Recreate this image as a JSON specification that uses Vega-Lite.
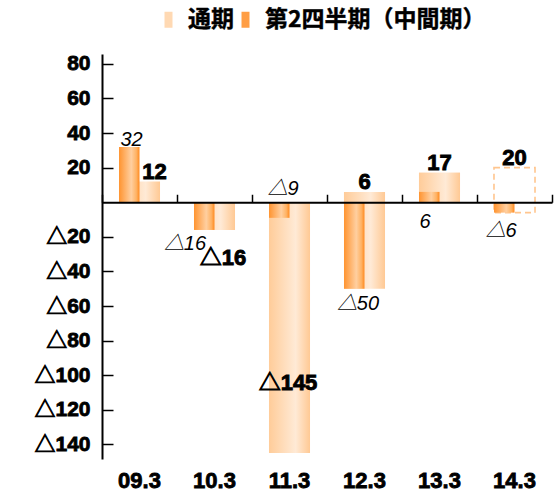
{
  "$schema": "https://vega.github.io/schema/vega-lite/v6.json",
  "width": 450,
  "height": 405,
  "autosize": {"type": "none"},
  "padding": {"left": 102, "top": 54, "right": 2, "bottom": 34},
  "config": {
    "view": {"stroke": null},
    "font": "Liberation Sans, Noto Sans CJK JP",
    "style": {"guide-label": {"stroke": "#000", "strokeWidth": 0.8}}
  },
  "data": {
    "values": [
      {"period": "09.3", "series": "通期", "value": 12, "label": "12", "forecast": false},
      {"period": "09.3", "series": "第2四半期（中間期）", "value": 32, "label": "32", "forecast": false},
      {"period": "10.3", "series": "通期", "value": -16, "label": "△16", "forecast": false},
      {"period": "10.3", "series": "第2四半期（中間期）", "value": -16, "label": "△16", "forecast": false},
      {"period": "11.3", "series": "通期", "value": -145, "label": "△145", "forecast": false},
      {"period": "11.3", "series": "第2四半期（中間期）", "value": -9, "label": "△9", "forecast": false},
      {"period": "12.3", "series": "通期", "value": 6, "label": "6", "forecast": false},
      {"period": "12.3", "series": "第2四半期（中間期）", "value": -50, "label": "△50", "forecast": false},
      {"period": "13.3", "series": "通期", "value": 17, "label": "17", "forecast": false},
      {"period": "13.3", "series": "第2四半期（中間期）", "value": 6, "label": "6", "forecast": false},
      {"period": "14.3", "series": "通期", "value": 20, "label": "20", "forecast": true},
      {"period": "14.3", "series": "第2四半期（中間期）", "value": -6, "label": "△6", "forecast": false}
    ]
  },
  "transform": [
    {"joinaggregate": [{"op": "min", "field": "value", "as": "pmin"}], "groupby": ["period"]}
  ],
  "encoding": {
    "x": {
      "field": "period", "type": "nominal",
      "scale": {"type": "band", "domain": ["09.3", "10.3", "11.3", "12.3", "13.3", "14.3"], "paddingInner": 0, "paddingOuter": 0},
      "axis": null
    },
    "y": {
      "field": "value", "type": "quantitative",
      "scale": {"domain": [-148.4, 85.7], "nice": false, "zero": false},
      "axis": null
    }
  },
  "layer": [
    {
      "transform": [{"filter": "datum.series === '通期' && !datum.forecast"}],
      "mark": {
        "type": "bar", "width": {"band": 0.547},
        "color": {"gradient": "linear", "stops": [
          {"offset": 0, "color": "#FFCC99"}, {"offset": 0.65, "color": "#FFEAD6"}, {"offset": 1, "color": "#FFC994"}
        ]}
      },
      "encoding": {
        "x": {
          "field": "period", "type": "nominal",
          "scale": {"type": "band", "domain": ["09.3", "10.3", "11.3", "12.3", "13.3", "14.3"], "paddingInner": 0, "paddingOuter": 0},
          "axis": {
            "orient": "bottom", "title": null, "labelAngle": 0, "ticks": false, "tickSize": 0, "domain": false,
            "labelFontSize": 22, "labelFontWeight": "bold", "labelColor": "#000", "labelPadding": 11,
            "labelFont": "Liberation Sans"
          }
        },
        "y": {
          "field": "value", "type": "quantitative",
          "scale": {"domain": [-148.4, 85.7], "nice": false, "zero": false},
          "axis": {
            "orient": "left", "title": null, "grid": false,
            "values": [80, 60, 40, 20, -20, -40, -60, -80, -100, -120, -140],
            "labelExpr": "datum.value < 0 ? '△' + abs(datum.value) : datum.label",
            "tickSize": -11, "labelPadding": 23, "tickColor": "#000", "tickWidth": 1.5,
            "domainColor": "#000", "domainWidth": 2, "zindex": 1,
            "labelFontSize": 21, "labelFontWeight": "bold", "labelColor": "#000",
            "labelFont": "Liberation Sans, Noto Sans CJK JP"
          }
        },
        "y2": {"datum": 0}
      }
    },
    {
      "transform": [{"filter": "datum.series === '通期' && !datum.forecast"}],
      "mark": {
        "type": "bar", "width": {"band": 0.547},
        "color": {"gradient": "linear", "stops": [
          {"offset": 0, "color": "#FFCC99"}, {"offset": 0.65, "color": "#FFEAD6"}, {"offset": 1, "color": "#FFC994"}
        ]}
      },
      "encoding": {
        "x": {
          "field": "period", "type": "nominal",
          "scale": {"type": "band", "domain": ["09.3", "10.3", "11.3", "12.3", "13.3", "14.3"], "paddingInner": 0, "paddingOuter": 0},
          "axis": {
            "orient": "top", "offset": -148.26, "title": null, "labels": false, "grid": false,
            "tickBand": "extent", "tickSize": 8, "tickColor": "#000", "tickWidth": 1.5,
            "domainColor": "#000", "domainWidth": 2, "zindex": 1
          }
        },
        "y2": {"field": "pmin"}
      }
    },
    {
      "transform": [{"filter": "datum.forecast"}],
      "mark": {
        "type": "bar", "width": {"band": 0.547},
        "fill": "#FFFFFF", "fillOpacity": 0,
        "stroke": "#FFC58E", "strokeWidth": 1.6, "strokeDash": [6, 4]
      },
      "encoding": {
        "y2": {"field": "pmin"}
      }
    },
    {
      "transform": [{"filter": "datum.series === '第2四半期（中間期）'"}],
      "mark": {
        "type": "bar", "width": {"band": 0.273}, "xOffset": -10.25,
        "color": {"gradient": "linear", "stops": [
          {"offset": 0, "color": "#FF9430"}, {"offset": 0.6, "color": "#FFCFA0"}, {"offset": 0.85, "color": "#FFB263"}, {"offset": 1, "color": "#FF8A20"}
        ]}
      },
      "encoding": {
        "y2": {"datum": 0}
      }
    },
    {
      "mark": {"type": "bar", "opacity": 0, "width": 1},
      "encoding": {
        "y2": {"datum": 0},
        "color": {
          "field": "series", "type": "nominal",
          "scale": {"domain": ["通期", "第2四半期（中間期）"], "range": ["#FFD9B3", "#FF9E45"]},
          "legend": {
            "orient": "none", "legendX": 55, "legendY": -46, "direction": "horizontal", "title": null,
            "symbolType": "M-0.5,-1H0.5V1H-0.5Z", "symbolSize": 256,
            "labelFont": "Noto Sans CJK JP", "labelFontSize": 23, "labelFontWeight": "bold", "labelColor": "#000",
            "labelOffset": 8, "columnPadding": -4, "padding": 0, "labelLimit": 400,
            "encode": {
              "labels": {"update": {"stroke": {"value": "#000"}, "strokeWidth": {"value": 0.4}}},
              "symbols": {
                "update": {
                  "fill": [
                    {"test": "datum.value === '通期'", "value": {"gradient": "linear", "stops": [
                      {"offset": 0, "color": "#FFCC99"}, {"offset": 0.65, "color": "#FFEAD6"}, {"offset": 1, "color": "#FFC994"}
                    ]}},
                    {"value": {"gradient": "linear", "stops": [
                      {"offset": 0, "color": "#FF9430"}, {"offset": 0.6, "color": "#FFCFA0"}, {"offset": 0.85, "color": "#FFB263"}, {"offset": 1, "color": "#FF8A20"}
                    ]}}
                  ],
                  "opacity": {"value": 1},
                  "fillOpacity": {"value": 1},
                  "strokeWidth": {"value": 0}
                }
              }
            }
          }
        }
      }
    },
    {
      "transform": [{"filter": "datum.series === '通期' && indexof(['12.3','13.3','14.3'], datum.period) >= 0"}],
      "mark": {"type": "text", "baseline": "alphabetic", "dy": -2.5, "fontSize": 22, "fontWeight": "bold", "color": "#000", "stroke": "#000", "strokeWidth": 0.9, "font": "Liberation Sans, Noto Sans CJK JP"},
      "encoding": {"text": {"field": "label"}}
    },
    {
      "transform": [{"filter": "datum.series === '通期' && datum.period === '09.3'"}],
      "mark": {"type": "text", "baseline": "alphabetic", "dx": 15, "dy": -2.5, "fontSize": 22, "fontWeight": "bold", "color": "#000", "stroke": "#000", "strokeWidth": 0.9, "font": "Liberation Sans, Noto Sans CJK JP"},
      "encoding": {"text": {"field": "label"}}
    },
    {
      "transform": [{"filter": "datum.series === '通期' && datum.period === '10.3'"}],
      "mark": {"type": "text", "baseline": "alphabetic", "dx": 8.5, "dy": 35, "fontSize": 22, "fontWeight": "bold", "color": "#000", "stroke": "#000", "strokeWidth": 0.9, "font": "Liberation Sans, Noto Sans CJK JP"},
      "encoding": {"text": {"field": "label"}}
    },
    {
      "transform": [{"filter": "datum.series === '通期' && datum.period === '11.3'"}],
      "mark": {"type": "text", "baseline": "alphabetic", "dx": -1.5, "dy": -63, "fontSize": 22, "fontWeight": "bold", "color": "#000", "stroke": "#000", "strokeWidth": 0.9, "font": "Liberation Sans, Noto Sans CJK JP"},
      "encoding": {"text": {"field": "label"}}
    },
    {
      "transform": [{"filter": "datum.series === '第2四半期（中間期）' && datum.period === '09.3'"}],
      "mark": {"type": "text", "baseline": "alphabetic", "dx": -8, "dy": -1, "fontSize": 20, "fontStyle": "italic", "color": "#000", "font": "Liberation Sans, Noto Sans CJK JP"},
      "encoding": {"text": {"field": "label"}}
    },
    {
      "transform": [{"filter": "datum.series === '第2四半期（中間期）' && datum.period === '10.3'"}],
      "mark": {"type": "text", "baseline": "alphabetic", "dx": -29.5, "dy": 20, "fontSize": 20, "fontStyle": "italic", "color": "#000", "font": "Liberation Sans, Noto Sans CJK JP"},
      "encoding": {"text": {"field": "label"}}
    },
    {
      "transform": [{"filter": "datum.series === '第2四半期（中間期）' && datum.period === '11.3'"}],
      "mark": {"type": "text", "baseline": "alphabetic", "dx": -6.5, "dy": -23, "fontSize": 20, "fontStyle": "italic", "color": "#000", "font": "Liberation Sans, Noto Sans CJK JP"},
      "encoding": {"text": {"field": "label"}}
    },
    {
      "transform": [{"filter": "datum.series === '第2四半期（中間期）' && datum.period === '12.3'"}],
      "mark": {"type": "text", "baseline": "alphabetic", "dx": -6.5, "dy": 21, "fontSize": 20, "fontStyle": "italic", "color": "#000", "font": "Liberation Sans, Noto Sans CJK JP"},
      "encoding": {"text": {"field": "label"}}
    },
    {
      "transform": [{"filter": "datum.series === '第2四半期（中間期）' && datum.period === '13.3'"}],
      "mark": {"type": "text", "baseline": "alphabetic", "dx": -14.5, "dy": 36, "fontSize": 20, "fontStyle": "italic", "color": "#000", "font": "Liberation Sans, Noto Sans CJK JP"},
      "encoding": {"text": {"field": "label"}}
    },
    {
      "transform": [{"filter": "datum.series === '第2四半期（中間期）' && datum.period === '14.3'"}],
      "mark": {"type": "text", "baseline": "alphabetic", "dx": -13.5, "dy": 24, "fontSize": 20, "fontStyle": "italic", "color": "#000", "font": "Liberation Sans, Noto Sans CJK JP"},
      "encoding": {"text": {"field": "label"}}
    }
  ],
  "resolve": {"axis": {"x": "independent", "y": "independent"}}
}
